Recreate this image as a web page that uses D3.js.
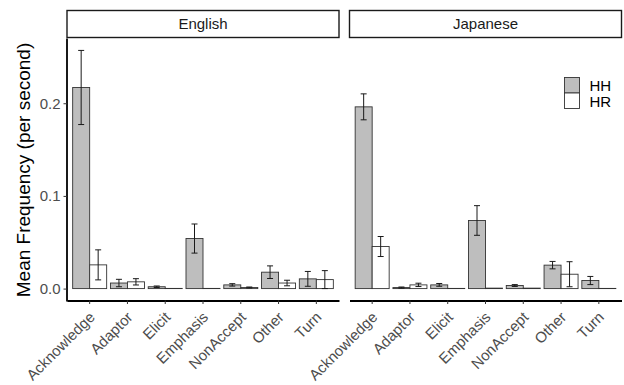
<!DOCTYPE html>
<html>
<head>
<meta charset="utf-8">
<script src="https://cdn.jsdelivr.net/npm/d3@7"></script>
<style>
  html, body { margin: 0; padding: 0; background: #fff; }
  svg { display: block; font-family: "Liberation Sans", Arial, sans-serif; }
</style>
</head>
<body>
<svg id="chart" width="624" height="385"></svg>
<script>
// Gesture categories, languages and conditions
const categories = ["Acknowledge", "Adaptor", "Elicit", "Emphasis", "NonAccept", "Other", "Turn"];
const languages = ["English", "Japanese"];
const conditions = ["HH", "HR"];

// Mean frequency (per second) and standard error, per category
const englishHH   = [0.217, 0.0060, 0.0020, 0.0540, 0.0040, 0.0177, 0.0105];
const englishHHse = [0.040, 0.0040, 0.0008, 0.0157, 0.0013, 0.0068, 0.0080];
const englishHR   = [0.0256, 0.0073, 0.0002, 0.0002, 0.0012, 0.0060, 0.0097];
const englishHRse = [0.0162, 0.0034, 0.0000, 0.0000, 0.0005, 0.0030, 0.0097];
const japaneseHH   = [0.1961, 0.0011, 0.0040, 0.0735, 0.0033, 0.0253, 0.0087];
const japaneseHHse = [0.0140, 0.0006, 0.0015, 0.0160, 0.0010, 0.0040, 0.0044];
const japaneseHR   = [0.0454, 0.0040, 0.0002, 0.0005, 0.0005, 0.0155, 0.0002];
const japaneseHRse = [0.0108, 0.0018, 0.0000, 0.0000, 0.0000, 0.0135, 0.0000];

// Y axis ticks
const yTicks = [0.0, 0.1, 0.2];

const fills = { HH: "#bebebe", HR: "#ffffff" };

const series = {
  English:  { HH: [englishHH, englishHHse],   HR: [englishHR, englishHRse] },
  Japanese: { HH: [japaneseHH, japaneseHHse], HR: [japaneseHR, japaneseHRse] }
};

const rows = [];
languages.forEach(lang => {
  conditions.forEach(cond => {
    const [m, se] = series[lang][cond];
    categories.forEach((c, i) => rows.push({ lang, cond, cat: c, mean: m[i], se: se[i] }));
  });
});

const svg = d3.select("#chart");

const panelTop = 38.5, panelBottom = 300.5;
const panels = { English: [67, 339], Japanese: [349.5, 621.5] };

// y domain: zero to largest upper error bound, padded by 5% on each side
const hi = d3.max(rows, d => d.mean + d.se);
const lo = 0;
const pad = (hi - lo) * 0.05;
const y = d3.scaleLinear().domain([lo - pad, hi + pad]).range([panelBottom, panelTop]);

const textGrey = "#4d4d4d";

languages.forEach(lang => {
  const [x0, x1] = panels[lang];
  const x = d3.scaleBand().domain(categories).range([x0, x1]).paddingInner(0).paddingOuter(0.1);
  const step = x.step();
  const inner = d3.scaleBand().domain(conditions).range([step * 0.05, step * 0.95]);
  const g = svg.append("g");

  // facet strip
  g.append("rect")
    .attr("x", x0).attr("y", 10.5).attr("width", x1 - x0).attr("height", 27)
    .attr("fill", "#fff").attr("stroke", "#1a1a1a").attr("stroke-width", 1.4);
  g.append("text")
    .attr("x", (x0 + x1) / 2).attr("y", 29)
    .attr("text-anchor", "middle").attr("font-size", 15).attr("fill", "#1a1a1a")
    .text(lang);

  const data = rows.filter(r => r.lang === lang);

  // bars
  g.selectAll("rect.bar").data(data).enter().append("rect")
    .attr("class", "bar")
    .attr("x", d => x(d.cat) + inner(d.cond))
    .attr("width", inner.bandwidth())
    .attr("y", d => y(d.mean))
    .attr("height", d => y(0) - y(d.mean))
    .attr("fill", d => fills[d.cond])
    .attr("stroke", "#333").attr("stroke-width", 0.9);

  // error bars
  const capW = 6;
  const eb = g.selectAll("g.err").data(data.filter(d => d.se > 0)).enter().append("g")
    .attr("stroke", "#1a1a1a").attr("stroke-width", 1);
  eb.append("line")
    .attr("x1", d => x(d.cat) + inner(d.cond) + inner.bandwidth() / 2)
    .attr("x2", d => x(d.cat) + inner(d.cond) + inner.bandwidth() / 2)
    .attr("y1", d => y(d.mean - d.se)).attr("y2", d => y(d.mean + d.se));
  [0, 1].forEach(j => {
    eb.append("line")
      .attr("x1", d => x(d.cat) + inner(d.cond) + inner.bandwidth() / 2 - capW / 2)
      .attr("x2", d => x(d.cat) + inner(d.cond) + inner.bandwidth() / 2 + capW / 2)
      .attr("y1", d => y(j ? d.mean + d.se : d.mean - d.se))
      .attr("y2", d => y(j ? d.mean + d.se : d.mean - d.se));
  });

  // x axis
  const xAxis = g.append("g").attr("transform", `translate(0,${panelBottom})`)
    .call(d3.axisBottom(x).tickSize(3.5).tickSizeOuter(0).tickPadding(4));
  xAxis.select(".domain").attr("stroke", "#000").attr("stroke-width", 1.8);
  xAxis.selectAll(".tick line").attr("stroke", "#333").attr("stroke-width", 1);
  xAxis.selectAll(".tick text")
    .attr("font-size", 15).attr("fill", textGrey)
    .attr("text-anchor", "end")
    .attr("dy", "0.72em")
    .attr("transform", "translate(-1.5,10) rotate(-45)")
    .attr("y", 0).attr("x", 0);

  if (lang === "English") {
    const yAxis = g.append("g").attr("transform", `translate(${x0},0)`)
      .call(d3.axisLeft(y).tickValues(yTicks).tickFormat(d3.format(".1f")).tickSize(3.5).tickSizeOuter(0).tickPadding(3));
    yAxis.select(".domain").attr("stroke", "#000").attr("stroke-width", 1.8)
      .attr("d", `M0,${panelTop}V${panelBottom + 0.9}`);
    yAxis.selectAll(".tick line").attr("stroke", "#333").attr("stroke-width", 1);
    yAxis.selectAll(".tick text").attr("font-size", 15).attr("fill", textGrey);
  }
});

// y axis title
svg.append("text")
  .attr("transform", "translate(30,170) rotate(-90)")
  .attr("text-anchor", "middle").attr("font-size", 19).attr("fill", "#000")
  .text("Mean Frequency (per second)");

// legend
const legend = svg.append("g").attr("transform", "translate(564.5,77.5)");
conditions.forEach((c, i) => {
  legend.append("rect")
    .attr("x", 0).attr("y", i * 15.5).attr("width", 15).attr("height", 15.5)
    .attr("fill", fills[c]).attr("stroke", "#333").attr("stroke-width", 0.9);
  legend.append("text")
    .attr("x", 25).attr("y", i * 15.5 + 13.5)
    .attr("font-size", 15).attr("fill", "#000")
    .text(c);
});
</script>
</body>
</html>
